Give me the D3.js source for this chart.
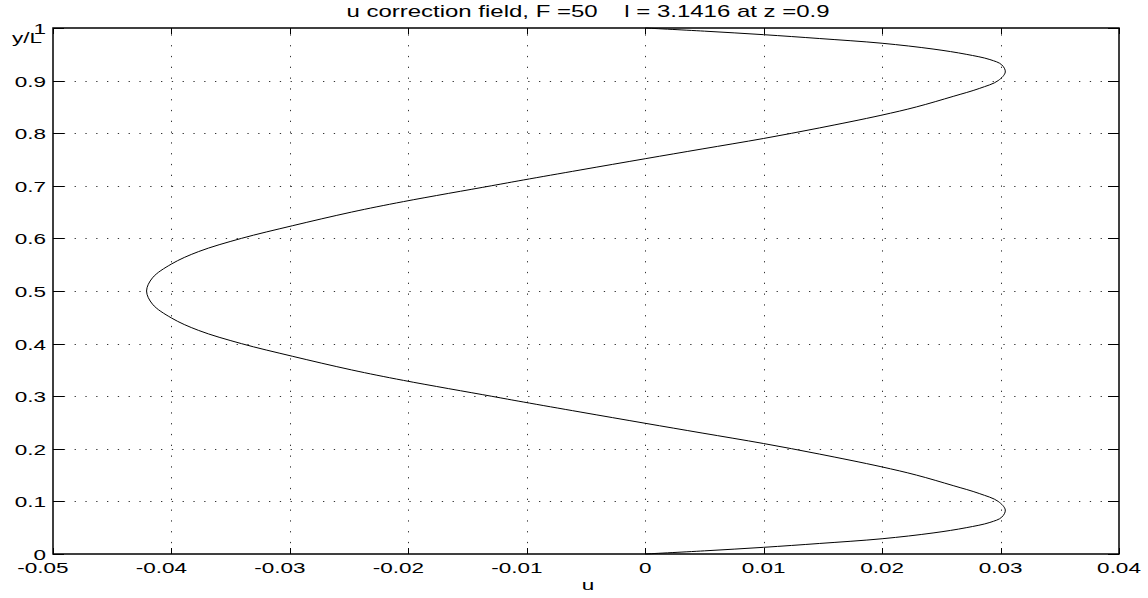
<!DOCTYPE html>
<html>
<head>
<meta charset="utf-8">
<script src="https://cdn.jsdelivr.net/npm/d3@7"></script>
<style>
  body { margin: 0; background: #fff; }
  svg text { font-family: "Liberation Sans", Arial, Helvetica, sans-serif; fill: #000; }
</style>
</head>
<body>
<div id="chart"></div>
<script>
// ============================
// Data
// ============================
const yVals = [0, 0.006, 0.0127, 0.02, 0.029, 0.04, 0.05, 0.06, 0.07, 0.0837, 0.1, 0.115, 0.13, 0.15, 0.166,
  0.19, 0.21, 0.23, 0.2485, 0.27, 0.289, 0.3, 0.33, 0.35, 0.376, 0.4, 0.425, 0.4487, 0.475, 0.5,
  0.525, 0.5513, 0.575, 0.6, 0.624, 0.65, 0.67, 0.7, 0.711, 0.73, 0.7515, 0.77, 0.79, 0.81, 0.834,
  0.85, 0.87, 0.885, 0.9, 0.9163, 0.93, 0.94, 0.95, 0.96, 0.971, 0.98, 0.9873, 0.994, 1];
const uVals = [0, 0.005, 0.010, 0.0147, 0.020, 0.0243, 0.0271, 0.0291, 0.0301, 0.0304, 0.0298, 0.0282, 0.0260, 0.0229, 0.0199,
  0.0147, 0.0100, 0.0048, 0, -0.0055, -0.0103, -0.0130, -0.0204, -0.0248, -0.0298, -0.0341, -0.0377, -0.0400, -0.0416, -0.0421,
  -0.0416, -0.0400, -0.0377, -0.0341, -0.0298, -0.0248, -0.0204, -0.0130, -0.0103, -0.0055, 0, 0.0048, 0.0100, 0.0147, 0.0199,
  0.0229, 0.0260, 0.0282, 0.0298, 0.0304, 0.0301, 0.0291, 0.0271, 0.0243, 0.020, 0.0147, 0.010, 0.005, 0];

const xTicks = [-0.05, -0.04, -0.03, -0.02, -0.01, 0, 0.01, 0.02, 0.03, 0.04];
const yTicks = [0, 0.1, 0.2, 0.3, 0.4, 0.5, 0.6, 0.7, 0.8, 0.9, 1];
const xTickLabels = ["-0.05", "-0.04", "-0.03", "-0.02", "-0.01", "0", "0.01", "0.02", "0.03", "0.04"];
const yTickLabels = ["0", "0.1", "0.2", "0.3", "0.4", "0.5", "0.6", "0.7", "0.8", "0.9", "1"];

const titleText = "u correction field, F =50    l = 3.1416 at z =0.9";
const xLabelText = "u";
const yLabelText = "y/L";

// ============================
// Setup
// ============================
const width = 1148, height = 598;
const mLeft = 53, mRight = 1119, mTop = 28, mBottom = 554;
const stretch = 1.5; // text in the figure is wide

const svg = d3.select("#chart").append("svg")
  .attr("width", width).attr("height", height);

const xscale = d3.scaleLinear().domain([-0.05, 0.04]).range([mLeft, mRight]);
const yscale = d3.scaleLinear().domain([0, 1]).range([mBottom, mTop]);

// wide text helper
function wideText(g, x, y, str, anchor, size) {
  g.append("text")
    .attr("transform", `translate(${x},${y}) scale(${stretch},1)`)
    .attr("text-anchor", anchor)
    .attr("font-size", size)
    .style("white-space", "pre")
    .text(str);
}

// grid
const grid = svg.append("g")
  .attr("stroke", "#333")
  .attr("stroke-width", 1)
  .attr("stroke-dasharray", "1.3,9.5");

grid.selectAll(".vgrid").data(xTicks.slice(1, -1)).join("line")
  .attr("x1", d => Math.round(xscale(d)) + 0.5).attr("x2", d => Math.round(xscale(d)) + 0.5)
  .attr("y1", mBottom).attr("y2", mTop);

grid.selectAll(".hgrid").data(yTicks.slice(1, -1)).join("line")
  .attr("y1", d => Math.round(yscale(d)) + 0.5).attr("y2", d => Math.round(yscale(d)) + 0.5)
  .attr("x1", mLeft).attr("x2", mRight);

// ticks (inside)
const ticks = svg.append("g").attr("stroke", "#000").attr("stroke-width", 1);
xTicks.forEach(d => {
  const x = Math.round(xscale(d)) + 0.5;
  ticks.append("line").attr("x1", x).attr("x2", x).attr("y1", mBottom).attr("y2", mBottom - 6);
  ticks.append("line").attr("x1", x).attr("x2", x).attr("y1", mTop).attr("y2", mTop + 6);
});
yTicks.forEach(d => {
  const y = Math.round(yscale(d)) + 0.5;
  ticks.append("line").attr("y1", y).attr("y2", y).attr("x1", mLeft).attr("x2", mLeft + 11);
  ticks.append("line").attr("y1", y).attr("y2", y).attr("x1", mRight).attr("x2", mRight - 11);
});

// curve
const curve = d3.line()
  .curve(d3.curveCatmullRom)
  .x(d => xscale(d.u))
  .y(d => yscale(d.y));

const data = yVals.map((y, i) => ({y: y, u: uVals[i]}));

svg.append("path")
  .datum(data)
  .attr("fill", "none")
  .attr("stroke", "#000")
  .attr("stroke-width", 1)
  .attr("d", curve);

// frame
svg.append("rect")
  .attr("x", mLeft).attr("y", mTop)
  .attr("width", mRight - mLeft).attr("height", mBottom - mTop)
  .attr("fill", "none").attr("stroke", "#000").attr("stroke-width", 1.5);

// tick labels
const labels = svg.append("g");
xTicks.forEach((d, i) => {
  const shift = d < 0 ? -10 : 0;
  wideText(labels, xscale(d) + shift, 573, xTickLabels[i], "middle", 15);
});
yTicks.forEach((d, i) => {
  wideText(labels, 46, yscale(d) + 6, yTickLabels[i], "end", 15);
});

// title and axis labels
wideText(svg, 588, 17, titleText, "middle", 16);
wideText(svg, 588, 590, xLabelText, "middle", 15);
wideText(svg, 42, 43, yLabelText, "end", 15);
</script>
</body>
</html>
